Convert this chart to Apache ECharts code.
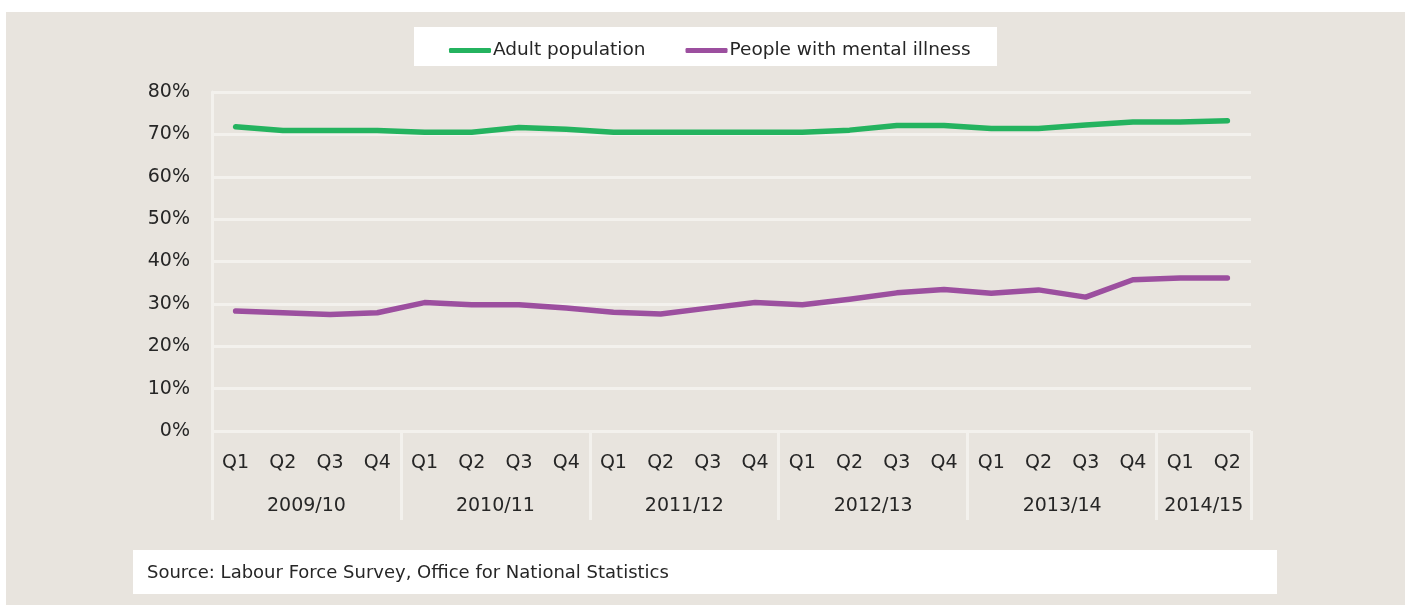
<!DOCTYPE html>
<html><head><meta charset="utf-8">
<script src="https://cdn.jsdelivr.net/npm/echarts@6/dist/echarts.min.js"></script>
<style>
html,body{margin:0;padding:0;background:#fff;}
#panel{position:absolute;left:6px;top:12px;width:1399px;height:593px;background:#E8E4DE;}
#c{position:absolute;left:0;top:0;width:1408px;height:605px;}
</style></head>
<body><div id="panel"></div><div id="c"></div>
<script>
const quarters = ['Q1','Q2','Q3','Q4','Q1','Q2','Q3','Q4','Q1','Q2','Q3','Q4','Q1','Q2','Q3','Q4','Q1','Q2','Q3','Q4','Q1','Q2'];
const years = ['2009/10','2010/11','2011/12','2012/13','2013/14','2014/15'];
const yearSizes = [4,4,4,4,4,2];
const adultPopulation = [71.8,70.9,70.9,70.9,70.5,70.5,71.6,71.2,70.5,70.5,70.5,70.5,70.5,71.0,72.1,72.1,71.4,71.4,72.2,72.9,72.9,73.2];
const mentalIllness = [28.3,27.9,27.5,27.9,30.3,29.8,29.8,29.0,28.0,27.6,29.0,30.3,29.8,31.1,32.6,33.4,32.5,33.3,31.6,35.7,36.1,36.1];
const yTicks = [0,10,20,30,40,50,60,70,80];

// Boundary positions for the year level (0..22)
const boundaryLabels = new Array(quarters.length + 1).fill('');
const boundaryTicks = new Array(quarters.length + 1).fill(false);
let s = 0;
years.forEach((y, i) => {
  boundaryTicks[s] = true;
  boundaryLabels[s + yearSizes[i] / 2] = y;
  s += yearSizes[i];
});
boundaryTicks[s] = true;

const font = 'DejaVu Sans';
const lightLine = '#F3F1ED';
const chart = echarts.init(document.getElementById('c'));
chart.setOption({
  animation: false,
  textStyle: {fontFamily: font},
  graphic: [
    {type: 'rect', shape: {x: 414, y: 27, width: 583, height: 39}, style: {fill: '#fff'}, z: 1},
    {type: 'rect', shape: {x: 133, y: 550, width: 1144, height: 44}, style: {fill: '#fff'}, z: 1},
    {type: 'text', x: 147, y: 573, style: {text: 'Source: Labour Force Survey, Office for National Statistics', font: '18px "DejaVu Sans"', fill: '#262626', textVerticalAlign: 'middle'}, z: 5}
  ],
  legend: {
    left: 444, top: 36,
    itemWidth: 42, itemHeight: 5, itemGap: 40,
    icon: 'roundRect',
    textStyle: {fontFamily: font, fontSize: 18.5, color: '#262626', padding: [0,0,0,-3]},
    data: ['Adult population', 'People with mental illness']
  },
  grid: {left: 212, right: 157, top: 92, bottom: 174},
  xAxis: [
    {
      type: 'category', data: quarters, boundaryGap: true, position: 'bottom',
      axisLine: {show: false}, axisTick: {show: false},
      axisLabel: {fontFamily: font, fontSize: 19, color: '#262626', margin: 23, interval: 0}
    },
    {
      type: 'category', data: boundaryLabels, boundaryGap: false, position: 'bottom',
      axisLine: {show: false},
      axisTick: {show: true, length: 89, interval: (i) => boundaryTicks[i], lineStyle: {color: lightLine, width: 3}},
      axisLabel: {fontFamily: font, fontSize: 19, color: '#262626', margin: 66, interval: (i) => boundaryLabels[i] !== ''}
    }
  ],
  yAxis: {
    type: 'value', min: yTicks[0], max: yTicks[yTicks.length - 1], interval: 10,
    axisLine: {show: true, lineStyle: {color: lightLine, width: 3}},
    axisTick: {show: false},
    axisLabel: {fontFamily: font, fontSize: 19, color: '#262626', margin: 22, formatter: '{value}%'},
    splitLine: {lineStyle: {color: lightLine, width: 3}}
  },
  series: [
    {name: 'Adult population', type: 'line', data: adultPopulation, symbol: 'none', color: '#24B35F',
     lineStyle: {width: 5.5, cap: 'round', join: 'round'}, z: 3},
    {name: 'People with mental illness', type: 'line', data: mentalIllness, symbol: 'none', color: '#9C4F9F',
     lineStyle: {width: 5.5, cap: 'round', join: 'round'}, z: 3}
  ]
});
</script></body></html>
